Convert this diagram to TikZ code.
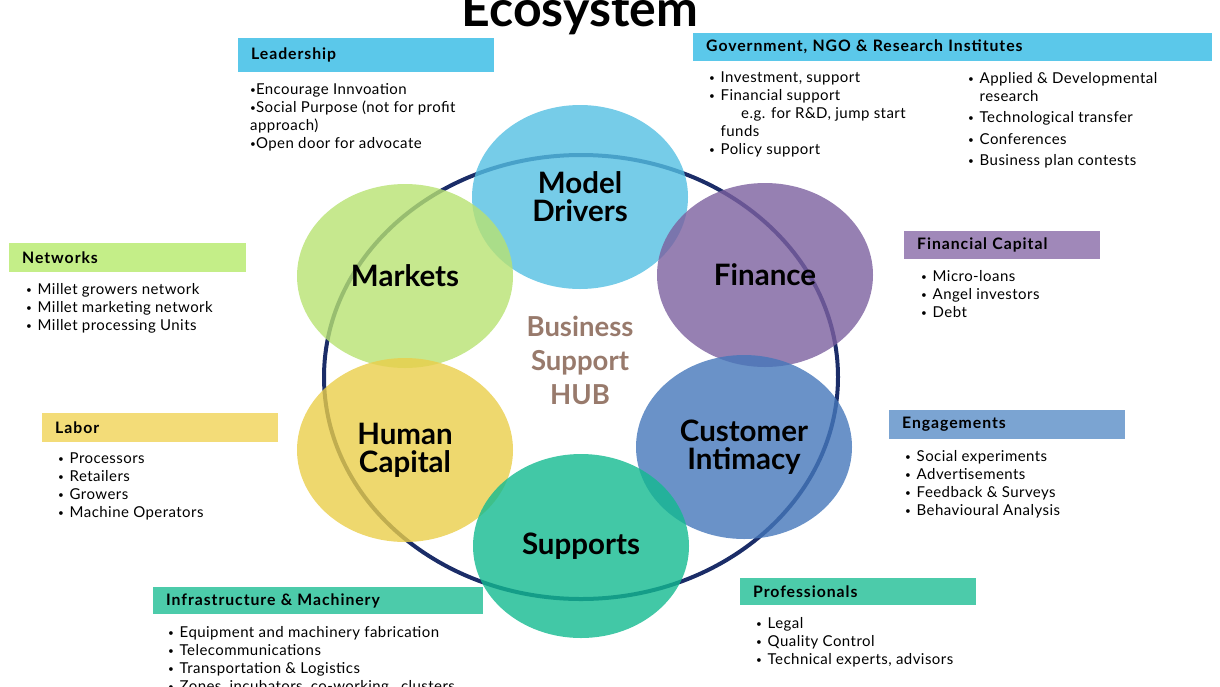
\documentclass[tikz,border=0pt]{standalone}
\usepackage{fontspec}
\setmainfont{Lato}
\newfontfamily\headfont[LetterSpace=6]{Lato}
\newfontfamily\listfont[LetterSpace=3]{Lato}
\usetikzlibrary{shapes.geometric}

\definecolor{ringblue}{RGB}{27,45,104}
\definecolor{modelblue}{RGB}{84,191,226}
\definecolor{marketgreen}{RGB}{184,226,114}
\definecolor{financepurple}{RGB}{124,96,159}
\definecolor{humanyellow}{RGB}{234,206,74}
\definecolor{customerblue}{RGB}{69,119,186}
\definecolor{supportteal}{RGB}{19,186,144}
\definecolor{barcyan}{RGB}{91,200,234}
\definecolor{bargreen}{RGB}{196,238,136}
\definecolor{barpurple}{RGB}{160,136,185}
\definecolor{baryellow}{RGB}{243,220,120}
\definecolor{barblue}{RGB}{123,164,210}
\definecolor{barteal}{RGB}{76,203,170}
\definecolor{hubbrown}{RGB}{152,122,108}

\newcommand{\bul}{\raisebox{1pt}{\fontsize{10}{10}\selectfont•}}
\newcommand{\itm}[1]{\makebox[11.5pt][l]{\bul}#1}

\begin{document}
\begin{tikzpicture}[x=1pt,y=-1pt,
    bubble/.style={ellipse, fill=#1, fill opacity=0.8, text opacity=1, minimum width=216pt, minimum height=184pt, inner sep=0pt, align=center, font=\fontsize{29.5}{28}\selectfont\bfseries},
    headbar/.style n args={3}{fill=#1, anchor=north west, minimum height=#2, text width=#3, inner xsep=13pt, inner ysep=0pt, align=left, font=\headfont\fontsize{15.8}{16}\selectfont\bfseries},
    itemlist/.style={anchor=north west, inner sep=0pt, align=left, font=\listfont\fontsize{15}{18}\selectfont}]
    \useasboundingbox (0,0) rectangle (1220,686);
    \clip (0,0) rectangle (1220,686);

    \node[anchor=base, font=\fontsize{50}{50}\selectfont\bfseries] (title) at (580,26) {Ecosystem};

    % hub ring and the six bubbles
    \draw[ringblue, line width=4pt] (581,377) ellipse [x radius=257, y radius=222];
    \node[bubble=modelblue] (model) at (580,197) {Model\\Drivers};
    \node[bubble=marketgreen] (markets) at (405,276) {Markets};
    \node[bubble=financepurple] (finance) at (765,275) {Finance};
    \node[bubble=humanyellow] (human) at (405,450) {Human\\Capital};
    \node[bubble=customerblue] (customer) at (744,447) {Customer\\Intimacy};
    \node[bubble=supportteal] (supports) at (581,546) {Supports};
    \node[hubbrown, align=center, font=\fontsize{27.5}{34}\selectfont\bfseries] (hub) at (580,360) {Business\\Support\\HUB};

    % Leadership
    \node[headbar={barcyan}{34pt}{230pt}] (lead) at (238,38) {Leadership};
    \node[itemlist] (leadlist) at (250,83) {\bul Encourage Innvoation\\\bul Social Purpose (not for profit\\approach)\\\bul Open door for advocate};

    % Government
    \node[headbar={barcyan}{28pt}{493pt}] (gov) at (693,33) {Government, NGO \& Research Institutes};
    \node[itemlist] (govleft) at (709,72) {\itm{Investment, support}\\\itm{Financial support}\\\hspace*{32pt}e.g. for R\&D, jump start\\\hspace*{11.5pt}funds\\\itm{Policy support}};
    \node[itemlist] (govright) at (968,72) {\itm{Applied \& Developmental}\\\hspace*{11.5pt}research\\[3pt]\itm{Technological transfer}\\[4pt]\itm{Conferences}\\[3pt]\itm{Business plan contests}};

    % Networks
    \node[headbar={bargreen}{29pt}{211pt}] (net) at (9,243) {Networks};
    \node[itemlist] (netlist) at (26,283) {\itm{Millet growers network}\\\itm{Millet marketing network}\\\itm{Millet processing Units}};

    % Financial Capital
    \node[headbar={barpurple}{28pt}{170pt}] (fin) at (904,231) {Financial Capital};
    \node[itemlist] (finlist) at (921,270) {\itm{Micro-loans}\\\itm{Angel investors}\\\itm{Debt}};

    % Labor
    \node[headbar={baryellow}{29pt}{210pt}] (labor) at (42,413) {Labor};
    \node[itemlist] (laborlist) at (58,453) {\itm{Processors}\\\itm{Retailers}\\\itm{Growers}\\\itm{Machine Operators}};

    % Engagements
    \node[headbar={barblue}{29pt}{210pt}] (engage) at (889,410) {Engagements};
    \node[itemlist] (engagelist) at (905,450) {\itm{Social experiments}\\\itm{Advertisements}\\\itm{Feedback \& Surveys}\\\itm{Behavioural Analysis}};

    % Infrastructure & Machinery
    \node[headbar={barteal}{27pt}{304pt}] (infra) at (153,587) {Infrastructure \& Machinery};
    \node[itemlist] (infralist) at (168,626) {\itm{Equipment and machinery fabrication}\\\itm{Telecommunications}\\\itm{Transportation \& Logistics}\\\itm{Zones, incubators, co-working , clusters}};

    % Professionals
    \node[headbar={barteal}{27pt}{210pt}] (prof) at (740,578) {Professionals};
    \node[itemlist] (proflist) at (756,617) {\itm{Legal}\\\itm{Quality Control}\\\itm{Technical experts, advisors}};
\end{tikzpicture}
\end{document}
